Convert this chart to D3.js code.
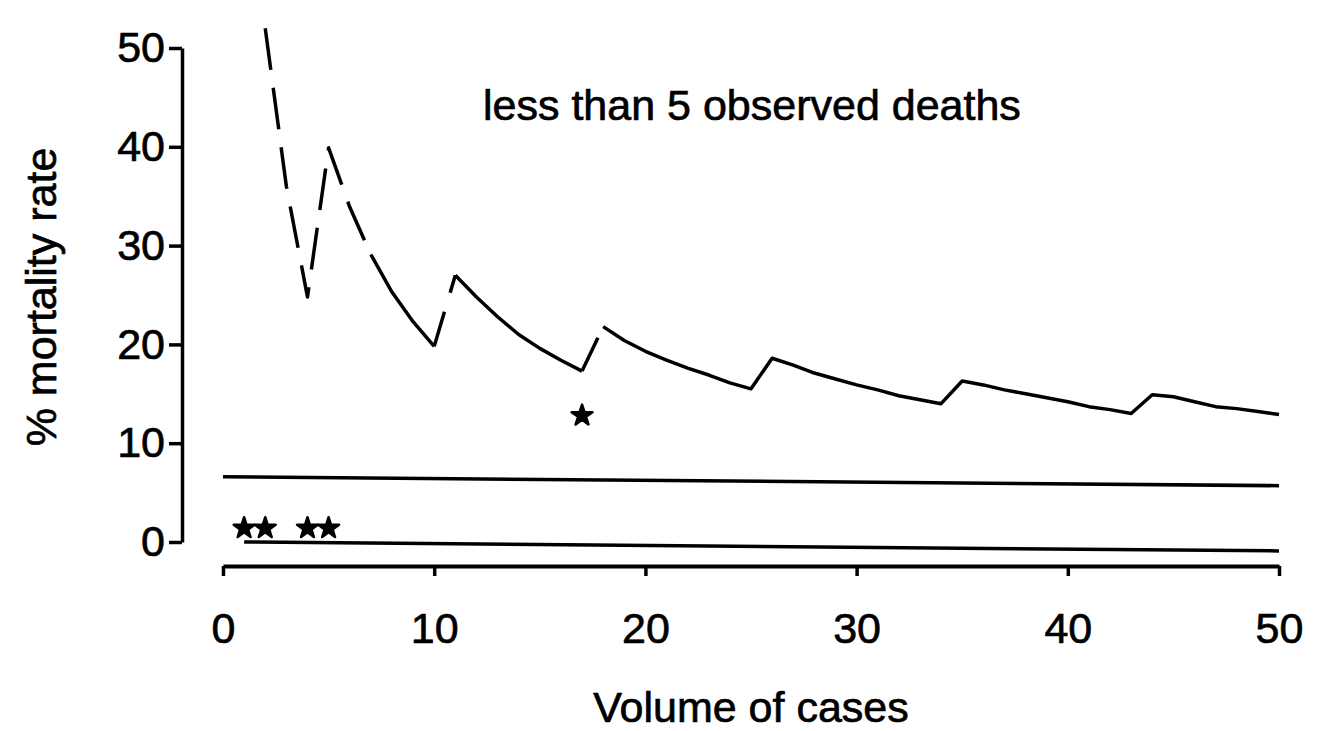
<!DOCTYPE html>
<html>
<head>
<meta charset="utf-8">
<script src="https://cdn.jsdelivr.net/npm/d3@7"></script>
<style>
	body { margin: 0; background: #fff; }
	svg { display: block; }
	text { font-family: "Liberation Sans", Arial, Helvetica, sans-serif; fill: #000; stroke: #000; stroke-width: 0.7px; }
</style>
</head>
<body>
<div id="chart"></div>
<script>
// mortality curve (volume of cases -> % mortality rate)
var volume = [2, 3, 4, 5, 6, 7, 8, 9, 10, 11, 12, 13, 14, 15, 16, 17, 18, 19, 20, 21, 22, 23, 24, 25, 26,
	27, 28, 29, 30, 31, 32, 33, 34, 35, 36, 37, 38, 39, 40, 41, 42, 43, 44, 45, 46, 47, 48, 49, 50];
var rate = [52.0, 36.0, 24.8, 39.9, 33.9, 29.1, 25.3, 22.3, 19.8, 27.0, 24.8, 22.8, 21.0, 19.6, 18.4, 17.3,
	21.8, 20.4, 19.3, 18.4, 17.6, 16.9, 16.1, 15.5, 18.6, 17.9, 17.1, 16.5, 15.9, 15.4, 14.8, 14.4, 14.0,
	16.3, 15.9, 15.4, 15.0, 14.6, 14.2, 13.7, 13.4, 13.0, 14.9, 14.7, 14.2, 13.7, 13.5, 13.2, 12.9];

// the two flat lines near the bottom
var upperLineVolume = [0, 50];
var upperLineRate = [6.6, 5.7];
var lowerLineVolume = [1, 50];
var lowerLineRate = [0.0, -0.9];

// asterisks
var markVolume = [1, 2, 4, 5, 17];
var markRate = [1.4, 1.4, 1.4, 1.4, 12.8];

var xTicks = [0, 10, 20, 30, 40, 50];
var yTicks = [0, 10, 20, 30, 40, 50];

var width = 1334;
var height = 731;
var fontSize = 43;

var svg = d3.select("#chart")
	.append("svg")
	.attr("width", width)
	.attr("height", height);

var x = d3.scaleLinear().domain([0, 50]).range([223, 1279]);
var y = d3.scaleLinear().domain([0, 50]).range([542, 48]);

var yAxisX = 182;
var xAxisY = 566;

// y axis
var yAxis = svg.append("g")
	.attr("transform", "translate(" + yAxisX + ",0)")
	.call(d3.axisLeft(y).tickValues(yTicks).tickSize(13).tickSizeOuter(0).tickPadding(4));

// x axis
var xAxis = svg.append("g")
	.attr("transform", "translate(0," + xAxisY + ")")
	.call(d3.axisBottom(x).tickValues(xTicks).tickSize(10).tickSizeOuter(0).tickPadding(36));

yAxis.select(".domain").attr("stroke", "#000").attr("stroke-width", 3.5);
xAxis.select(".domain").attr("stroke", "#000").attr("stroke-width", 4);

[yAxis, xAxis].forEach(function(a) {
	a.selectAll(".tick line").attr("stroke", "#000").attr("stroke-width", 3.5);
	a.selectAll(".tick text")
		.style("font-size", fontSize + "px")
		.attr("fill", "#000");
});

var line = d3.line()
	.x(function(d) { return x(d.v); })
	.y(function(d) { return y(d.r); });

function pick(vs, rs, from, to) {
	var out = [];
	vs.forEach(function(v, i) {
		if (v >= from && v <= to) out.push({v: v, r: rs[i]});
	});
	return out;
}

// curve pieces: dashed start, broken jumps at 10->11 and 17->18, solid otherwise
var pieces = [
	{from: 2, to: 7, dash: "42,18"},
	{from: 7, to: 10, dash: null},
	{from: 10, to: 11, dash: "36,20,200"},
	{from: 11, to: 17, dash: null},
	{from: 17, to: 18, dash: "37,13,200"},
	{from: 18, to: 50, dash: null}
];

pieces.forEach(function(p) {
	svg.append("path")
		.datum(pick(volume, rate, p.from, p.to))
		.attr("d", line)
		.attr("fill", "none")
		.attr("stroke", "#000")
		.attr("stroke-width", 3.5)
		.attr("stroke-linejoin", "round")
		.attr("stroke-dasharray", p.dash);
});

// bottom flat lines
[[upperLineVolume, upperLineRate], [lowerLineVolume, lowerLineRate]].forEach(function(l) {
	svg.append("path")
		.datum(pick(l[0], l[1], 0, 50))
		.attr("d", line)
		.attr("fill", "none")
		.attr("stroke", "#000")
		.attr("stroke-width", 3.5);
});

// asterisks
svg.selectAll(".mark")
	.data(markVolume)
	.enter()
	.append("path")
	.attr("class", "mark")
	.attr("transform", function(d, i) { return "translate(" + x(d) + "," + y(markRate[i]) + ")"; })
	.attr("d", d3.symbol().type(d3.symbolStar).size(135))
	.attr("fill", "#000")
	.attr("stroke", "#000")
	.attr("stroke-width", 2.5)
	.attr("stroke-linejoin", "round");

// texts
svg.append("text")
	.attr("x", 483)
	.attr("y", 120)
	.style("font-size", fontSize + "px")
	.text("less than 5 observed deaths");

svg.append("text")
	.attr("x", (x(0) + x(50)) / 2)
	.attr("y", 722)
	.attr("text-anchor", "middle")
	.style("font-size", fontSize + "px")
	.text("Volume of cases");

svg.append("text")
	.attr("transform", "translate(56,297) rotate(-90)")
	.attr("text-anchor", "middle")
	.style("font-size", fontSize + "px")
	.text("% mortality rate");
</script>
</body>
</html>
